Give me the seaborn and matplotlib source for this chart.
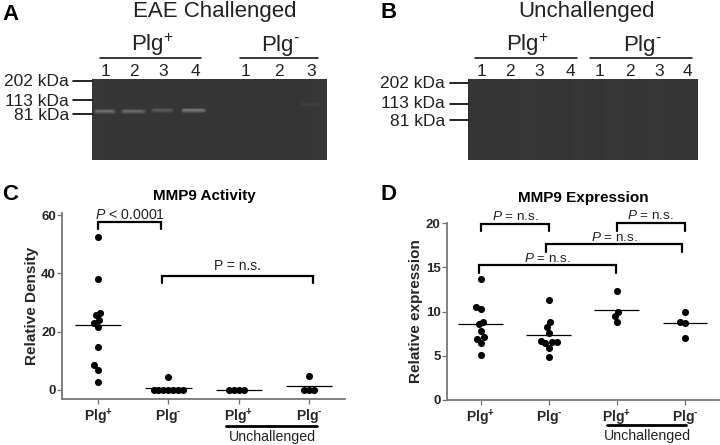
import pandas as pd
import seaborn as sns
import matplotlib.pyplot as plt

# values
groups = ['plus', 'minus', 'plus_un', 'minus_un']
group_labels = ['$\\mathbf{Plg^{+}}$', '$\\mathbf{Plg^{\u2010}}$', '$\\mathbf{Plg^{+}}$', '$\\mathbf{Plg^{\u2010}}$']

activity_plus = [52.6, 37.9, 26.3, 25.7, 23.9, 23.0, 21.5, 14.9, 8.5, 7.0, 2.9]
activity_minus = [4.3, 0.1, 0.1, 0.1, 0.1, 0.1, 0.1, 0.1]
activity_plus_un = [0.1, 0.1, 0.1, 0.1]
activity_minus_un = [4.8, 0.0, 0.0, 0.0]
activity_means = [22.2, 0.6, 0.1, 1.2]

expr_plus = [13.7, 10.5, 10.3, 8.87, 8.57, 7.85, 7.1, 6.87, 6.45, 5.13]
expr_minus = [11.35, 8.8, 8.3, 7.6, 6.65, 6.6, 6.5, 6.4, 5.85, 4.87]
expr_plus_un = [12.3, 10.0, 9.5, 8.8]
expr_minus_un = [9.9, 8.8, 8.65, 7.0]
expr_means = [8.55, 7.3, 10.15, 8.65]

# gel lane shades (grey level, left to right)
gel_a_shades = [55, 54, 54, 53, 54, 54, 53, 53, 53, 54, 53, 53, 53, 54, 53, 54, 54, 53, 54, 55]
gel_b_shades = [53, 53, 54, 53, 54, 55, 53, 54, 53, 55, 54, 53, 55, 54, 53, 54, 55, 53, 54, 54]

# gel A bands: start, end, height, brightest grey
gel_a_bands = [(4, 21, 31.5, '#8a8a8a'), (31, 51, 31.5, '#848484'), (61, 79, 31, '#6c6c6c'),
               (91, 111, 30.5, '#9c9c9c'), (210, 226, 25, '#464646')]

kda_labels = ['202 kDa', '113 kDa', '81 kDa']

W, H = 720, 445


def rect(x0, y0, x1, y1):
    # pixel box of the reference -> figure fractions
    return [x0 / W, 1 - y1 / H, (x1 - x0) / W, (y1 - y0) / H]


def draw_gel(fig, box, shades, bands=()):
    ax = fig.add_axes(rect(*box))
    sns.heatmap([shades], cmap='gray', vmin=0, vmax=255, cbar=False, ax=ax,
                xticklabels=False, yticklabels=False)
    ax2 = fig.add_axes(rect(*box))
    ax2.set_xlim(0, box[2] - box[0])
    ax2.set_ylim(box[3] - box[1], 0)
    ax2.axis('off')
    for x0, x1, y, c in bands:
        ax2.plot([x0, x1], [y, y], color=c, lw=3.6, alpha=0.18, solid_capstyle='round')
        ax2.plot([x0, x1], [y, y], color=c, lw=2.4, alpha=0.3, solid_capstyle='round')
        ax2.plot([x0 + 1, x1 - 1], [y, y], color=c, lw=1.2, alpha=0.4, solid_capstyle='round')


def dot_panel(fig, box, xlim, values, means, ylim, yticks, ylabel, pad):
    ax = fig.add_axes(rect(*box))
    df = pd.DataFrame({
        'group': [g for g, v in zip(groups, values) for _ in v],
        'value': [x for v in values for x in v],
    })
    sns.swarmplot(data=df, x='group', y='value', order=groups, color='black', size=5, ax=ax)
    ax.set_xlim(xlim)
    ax.set_ylim(ylim)
    fig.canvas.draw()
    # keep the swarm layout but tighten it, then draw the dots at their real size
    for i, coll in enumerate(ax.collections):
        del coll.draw
        xy = coll.get_offsets()
        xy[:, 0] = i + (xy[:, 0] - i) * 0.68
        coll.set_offsets(xy)
        coll.set_sizes([26])
        coll.set_linewidth(0)
        coll.set_clip_on(False)
    ax.hlines(means, [i - 0.33 for i in range(4)], [i + 0.33 for i in range(4)], color='black', lw=0.9)
    ax.set_yticks(yticks)
    ax.set_xticks(range(4))
    ax.set_xticklabels(group_labels)
    ax.set_xlabel('')
    ax.set_ylabel(ylabel, fontsize=11, fontweight='bold', labelpad=pad)
    ax.tick_params(axis='both', color='#707070', length=3.5, width=0.9)
    ax.tick_params(axis='x', labelsize=10, pad=2)
    ax.tick_params(axis='y', labelsize=9.5, pad=1)
    for t in ax.get_yticklabels():
        t.set_fontweight('bold')
    sns.despine(ax=ax)
    for s in ['left', 'bottom']:
        ax.spines[s].set_color('#777777')
        ax.spines[s].set_linewidth(1.3)
    return ax


def bracket(ax, x0, x1, top, low, label, off=6, size=10):
    ax.plot([x0, x0, x1, x1], [low, top, top, low], color='black', lw=1.6,
            solid_joinstyle='miter', clip_on=False)
    ax.annotate(label, ((x0 + x1) / 2, top), xytext=(0, off), textcoords='offset points',
                ha='center', va='center', fontsize=size, color='#222222')


sns.set_theme(style='ticks')
plt.rcParams['font.family'] = ['Liberation Sans', 'DejaVu Sans']
plt.rcParams['mathtext.fontset'] = 'custom'
plt.rcParams['mathtext.rm'] = 'Liberation Sans'
plt.rcParams['mathtext.it'] = 'Liberation Sans:italic'
plt.rcParams['mathtext.bf'] = 'Liberation Sans:bold'
plt.rcParams['text.color'] = 'black'

fig = plt.figure(figsize=(7.2, 4.45), dpi=100)

# gels
draw_gel(fig, (92, 79, 327, 160), gel_a_shades, gel_a_bands)
draw_gel(fig, (468, 79, 698, 160), gel_b_shades)

# dot plots
ax_c = dot_panel(fig, (62, 213, 345, 399), (-0.512, 3.51),
                 [activity_plus, activity_minus, activity_plus_un, activity_minus_un],
                 activity_means, (-3.1, 60.7), [0, 20, 40, 60], 'Relative Density', 1)
ax_d = dot_panel(fig, (447, 223, 719, 400), (-0.496, 3.5),
                 [expr_plus, expr_minus, expr_plus_un, expr_minus_un],
                 expr_means, (0, 20), [0, 5, 10, 15, 20], 'Relative expression', 2)

P = r'$\mathit{P}$'
bracket(ax_c, 0, 0.9, 57.5, 55.2, P + ' < 0.0001', off=5.5, size=10.2)
bracket(ax_c, 0.91, 3.06, 39.1, 36.8, 'P = n.s.', off=7.5)
bracket(ax_d, 0.01, 1.0, 19.9, 19.05, P + ' = n.s.', off=5.5, size=9.7)
bracket(ax_d, 2.0, 3.0, 20.04, 19.1, P + ' = n.s.', off=5, size=9.7)
bracket(ax_d, 0.96, 2.96, 17.6, 16.75, P + ' = n.s.', off=5, size=9.7)
bracket(ax_d, -0.02, 1.99, 15.25, 14.4, P + ' = n.s.', off=5, size=9.7)

# page layer for labels and rules around the panels
page = fig.add_axes([0, 0, 1, 1], facecolor='none')
page.set_xlim(0, W)
page.set_ylim(H, 0)
page.axis('off')

for letter, x, y in [('A', 2, 15), ('B', 381, 13), ('C', 2, 195), ('D', 381, 194)]:
    page.text(x, y, letter, fontsize=16, fontweight='bold', ha='left', va='center')

page.text(215, 11, 'EAE Challenged', fontsize=16, ha='center', va='center', color='#222222')
page.text(586, 11, 'Unchallenged', fontsize=16, ha='center', va='center', color='#222222')

for x, txt in [(152, 'Plg$^{+}$'), (280, 'Plg$^{\u2010}$'), (527, 'Plg$^{+}$'), (642, 'Plg$^{\u2010}$')]:
    page.text(x, 45, txt, fontsize=16, ha='center', va='center', color='#222222')
for x0, x1 in [(100, 201), (240, 318), (475, 577), (590, 692)]:
    page.plot([x0, x1], [58, 58], color='black', lw=1.1)

lanes_a = [105, 134, 163, 195, 246, 279, 311]
lanes_b = [481, 510, 539, 570, 599, 630, 659, 687]
for xs, nums in [(lanes_a, '1234123'), (lanes_b, '12341234')]:
    for x, n in zip(xs, nums):
        page.text(x, 72, n, fontsize=12.5, ha='center', va='center', color='#222222')

for label, y, yt in zip(kda_labels, [81, 101, 116], [80.7, 100, 114.3]):
    page.text(69, y, label, fontsize=12.5, ha='right', va='center', color='#222222')
    page.plot([73, 92], [yt, yt], color='black', lw=1.2)
for label, y, yt in zip(kda_labels, [83, 104, 121], [83, 103.7, 120.3]):
    page.text(445, y, label, fontsize=12.5, ha='right', va='center', color='#222222')
    page.plot([450, 468], [yt, yt], color='black', lw=1.2)

page.text(204, 196, 'MMP9 Activity', fontsize=11, fontweight='bold', ha='center', va='center')
page.text(583, 198, 'MMP9 Expression', fontsize=11, fontweight='bold', ha='center', va='center')

page.plot([226, 317], [426, 426], color='black', lw=2)
page.text(272, 437, 'Unchallenged', fontsize=10.2, ha='center', va='center', color='#222222')
page.plot([607, 686], [424.5, 424.5], color='black', lw=2)
page.text(647, 436, 'Unchallenged', fontsize=10.2, ha='center', va='center', color='#222222')

fig.savefig('out.png', dpi=100)
